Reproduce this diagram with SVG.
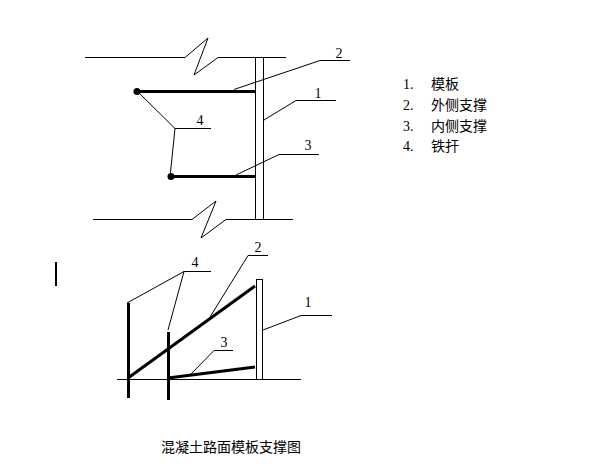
<svg xmlns="http://www.w3.org/2000/svg" width="603" height="471" viewBox="0 0 603 471">
<style>
.l{fill:none;stroke:#000;stroke-width:1}
.t{fill:none;stroke:#000;stroke-width:3}
.n{font-family:"Liberation Serif",serif;font-size:14px;fill:#000}
.c{font-family:"Liberation Serif","Noto Sans CJK SC",sans-serif;font-size:14px;fill:#000}
</style>
<rect width="603" height="471" fill="#fff"/>
<g id="top-view">
<g id="top-edges">
<polyline class="l" points="85,57.5 185,57.5 208,38 194,75 218,57.5 286,57.5"/>
<polyline class="l" points="93,219.5 192,219.5 216,201 201,238 226,219.5 293,219.5"/>
</g>
<g id="top-formwork"><rect class="l" x="255.500" y="57.500" width="8" height="162"/></g>
<g id="top-outer-brace"><line class="t" x1="137" y1="91.500" x2="255" y2="91.500"/><circle cx="137" cy="91.500" r="3.500"/></g>
<g id="top-inner-brace"><line class="t" x1="171" y1="176.500" x2="255" y2="176.500"/><circle cx="171" cy="176.500" r="3.500"/></g>
</g>
<g id="side-view">
<g id="side-ground"><line class="l" x1="117" y1="379.500" x2="301" y2="379.500"/></g>
<g id="side-formwork"><rect class="l" x="256.500" y="279.500" width="6" height="100"/></g>
<g id="side-stake-1"><line class="t" x1="128.500" y1="303" x2="128.500" y2="398"/></g>
<g id="side-stake-2"><line class="t" x1="168.500" y1="332" x2="168.500" y2="400"/></g>
<g id="side-outer-brace"><line class="t" x1="128" y1="378" x2="255" y2="286"/></g>
<g id="side-inner-brace"><line class="t" x1="168" y1="378" x2="255" y2="367"/></g>
</g>
<g id="connectors">
<polyline class="l" points="234,89.500 320,60.500 350,60.500"/>
<polyline class="l" points="264,120 296,100.500 336,100.500"/>
<polyline class="l" points="236,175 279,154.500 319,154.500"/>
<polyline class="l" points="137,91 175,128.500 211,128.500"/>
<polyline class="l" points="175,128.500 170,177"/>
<polyline class="l" points="127,303 184,271.500 211,271.500"/>
<line class="l" x1="184" y1="271.500" x2="168" y2="330"/>
<polyline class="l" points="210,317 248,255.500 268,255.500"/>
<polyline class="l" points="263,330 301,315.500 332,315.500"/>
<polyline class="l" points="191,374 214,350.500 233,350.500"/>
</g>
<g id="labels">
<text class="n" x="339" y="58" text-anchor="middle">2</text>
<text class="n" x="318" y="98" text-anchor="middle">1</text>
<text class="n" x="200" y="125" text-anchor="middle">4</text>
<text class="n" x="308" y="150" text-anchor="middle">3</text>
<text class="n" x="195" y="267" text-anchor="middle">4</text>
<text class="n" x="258" y="252" text-anchor="middle">2</text>
<text class="n" x="308" y="307" text-anchor="middle">1</text>
<text class="n" x="224" y="347" text-anchor="middle">3</text>
</g>
<g id="legend">
<text class="n" x="403" y="89">1.</text><text class="c" x="431" y="89">模板</text>
<text class="n" x="403" y="110">2.</text><text class="c" x="431" y="110">外侧支撑</text>
<text class="n" x="403" y="131">3.</text><text class="c" x="431" y="131">内侧支撑</text>
<text class="n" x="403" y="151">4.</text><text class="c" x="431" y="151">铁扞</text>
</g>
<g id="cursor"><line x1="56" y1="262" x2="56" y2="286" stroke="#000" stroke-width="2"/></g>
<text id="caption" class="c" x="161" y="452">混凝土路面模板支撑图</text>
</svg>
